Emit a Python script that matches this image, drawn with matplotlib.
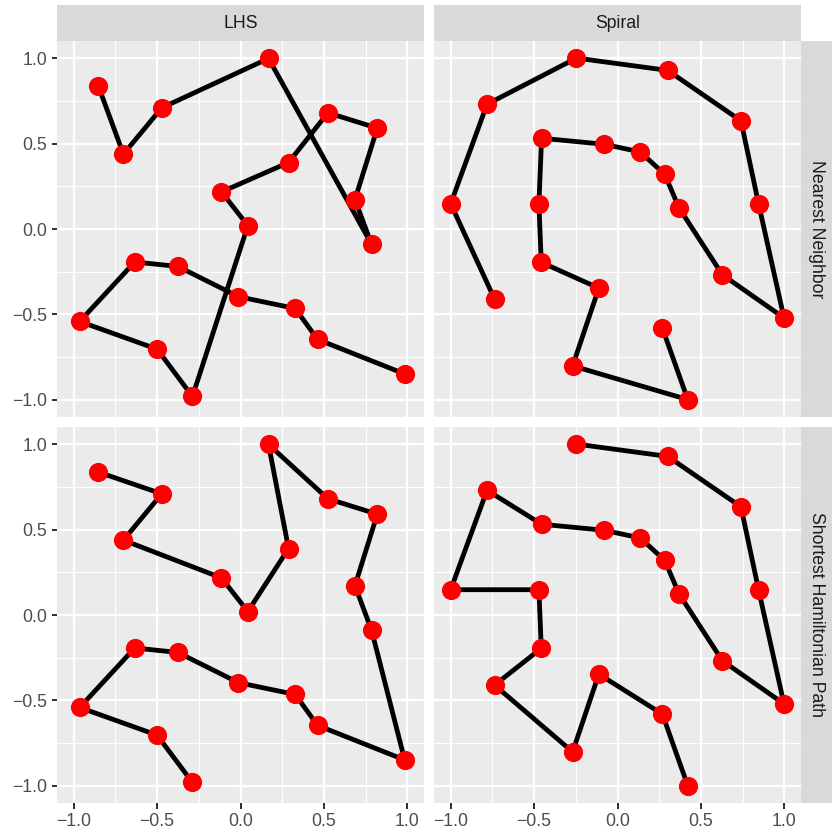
#!/usr/bin/env python
#
# Path through design points: nearest neighbour vs shortest hamiltonian path,
# drawn as a 2x2 facet grid in the ggplot look.
#

import numpy as np
import matplotlib
matplotlib.use('Agg')
import matplotlib.pyplot as plt

# design points, listed in nearest-neighbour order
lhs_x = [-0.852, -0.702, -0.472, 0.168, 0.786, 0.686, 0.820, 0.524, 0.288, -0.114,
         0.044, -0.288, -0.500, -0.964, -0.634, -0.376, -0.012, 0.328, 0.462, 0.984]
lhs_y = [0.836, 0.438, 0.709, 0.998, -0.090, 0.172, 0.590, 0.680, 0.389, 0.217,
         0.020, -0.980, -0.703, -0.541, -0.193, -0.219, -0.396, -0.465, -0.646, -0.848]
lhs_ham = [0, 2, 1, 9, 10, 8, 3, 7, 6, 5, 4, 19, 18, 17, 16, 15, 14, 13, 12, 11]

spiral_x = [0.269, 0.421, -0.269, -0.112, -0.457, -0.471, -0.455, -0.082, 0.136, 0.283,
            0.369, 0.629, 0.998, 0.846, 0.740, 0.301, -0.246, -0.782, -1.000, -0.737]
spiral_y = [-0.580, -0.998, -0.801, -0.346, -0.195, 0.148, 0.531, 0.496, 0.451, 0.320,
            0.123, -0.268, -0.520, 0.146, 0.633, 0.928, 1.000, 0.730, 0.148, -0.410]
spiral_ham = [16, 15, 14, 13, 12, 11, 10, 9, 8, 7, 6, 17, 18, 5, 4, 19, 2, 3, 0, 1]

col_labels = ['LHS', 'Spiral']
row_labels = ['Nearest Neighbor', 'Shortest Hamiltonian Path']
ticks = [-1.0, -0.5, 0.0, 0.5, 1.0]
tick_labels = ['\u22121.0', '\u22120.5', '0.0', '0.5', '1.0']
minor_ticks = [-0.75, -0.25, 0.25, 0.75]

W, H = 832, 831
DPI = 144


def rect(x0, y0, x1, y1):
    """ pixel box (top-left origin) -> figure fraction """
    return [x0 / W, 1 - y1 / H, (x1 - x0) / W, (y1 - y0) / H]


def draw_panel(ax, x, y, show_x, show_y):
    ax.set_facecolor('#EBEBEB')
    ax.set_xlim(-1.1, 1.1)
    ax.set_ylim(-1.1, 1.1)
    for v in minor_ticks:
        ax.axvline(v, color='white', lw=0.55, zorder=0)
        ax.axhline(v, color='white', lw=0.55, zorder=0)
    for v in ticks:
        ax.axvline(v, color='white', lw=1.1, zorder=0)
        ax.axhline(v, color='white', lw=1.1, zorder=0)
    ax.plot(x, y, color='black', lw=2.4, solid_capstyle='butt', zorder=2)
    ax.plot(x, y, 'o', color='#FF0000', ms=9.6, mec='none', zorder=3)

    for s in ax.spines.values():
        s.set_visible(False)
    ax.set_xticks(ticks)
    ax.set_yticks(ticks)
    ax.tick_params(colors='#333333', length=2.75, width=1.0, pad=2.2,
                   labelsize=8.8, labelcolor='#4D4D4D')
    if show_x:
        ax.set_xticklabels(tick_labels)
    else:
        ax.tick_params(axis='x', length=0, labelbottom=False)
    if show_y:
        ax.set_yticklabels(tick_labels)
    else:
        ax.tick_params(axis='y', length=0, labelleft=False)


def strip(box, label, rotation=0):
    ax = plt.gcf().add_axes(rect(*box))
    ax.set_facecolor('#D9D9D9')
    ax.set_xticks([])
    ax.set_yticks([])
    for s in ax.spines.values():
        s.set_visible(False)
    ax.text(0.5, 0.5, label, transform=ax.transAxes, ha='center', va='center',
            rotation=rotation, fontsize=8.8, color='#1A1A1A')


def main():
    plt.rcParams['font.family'] = ['Liberation Sans', 'DejaVu Sans']
    fig = plt.figure(figsize=(W / DPI, H / DPI), dpi=DPI, facecolor='white')

    cols = [(57, 424), (434, 801)]
    rows = [(41, 417), (427, 803)]
    data = [(lhs_x, lhs_y, lhs_ham), (spiral_x, spiral_y, spiral_ham)]

    for j, (cx0, cx1) in enumerate(cols):
        px, py, ham = data[j]
        px = np.asarray(px)
        py = np.asarray(py)
        for i, (ry0, ry1) in enumerate(rows):
            ax = fig.add_axes(rect(cx0, ry0, cx1, ry1))
            if i == 0:
                x, y = px, py
            else:
                x, y = px[ham], py[ham]
            draw_panel(ax, x, y, show_x=(i == 1), show_y=(j == 0))
        strip((cx0, 5, cx1, 41), col_labels[j])

    for i, (ry0, ry1) in enumerate(rows):
        strip((801, ry0, 832, ry1), row_labels[i], rotation=-90)

    fig.savefig('out.png', dpi=DPI)


if __name__ == '__main__':
    main()
